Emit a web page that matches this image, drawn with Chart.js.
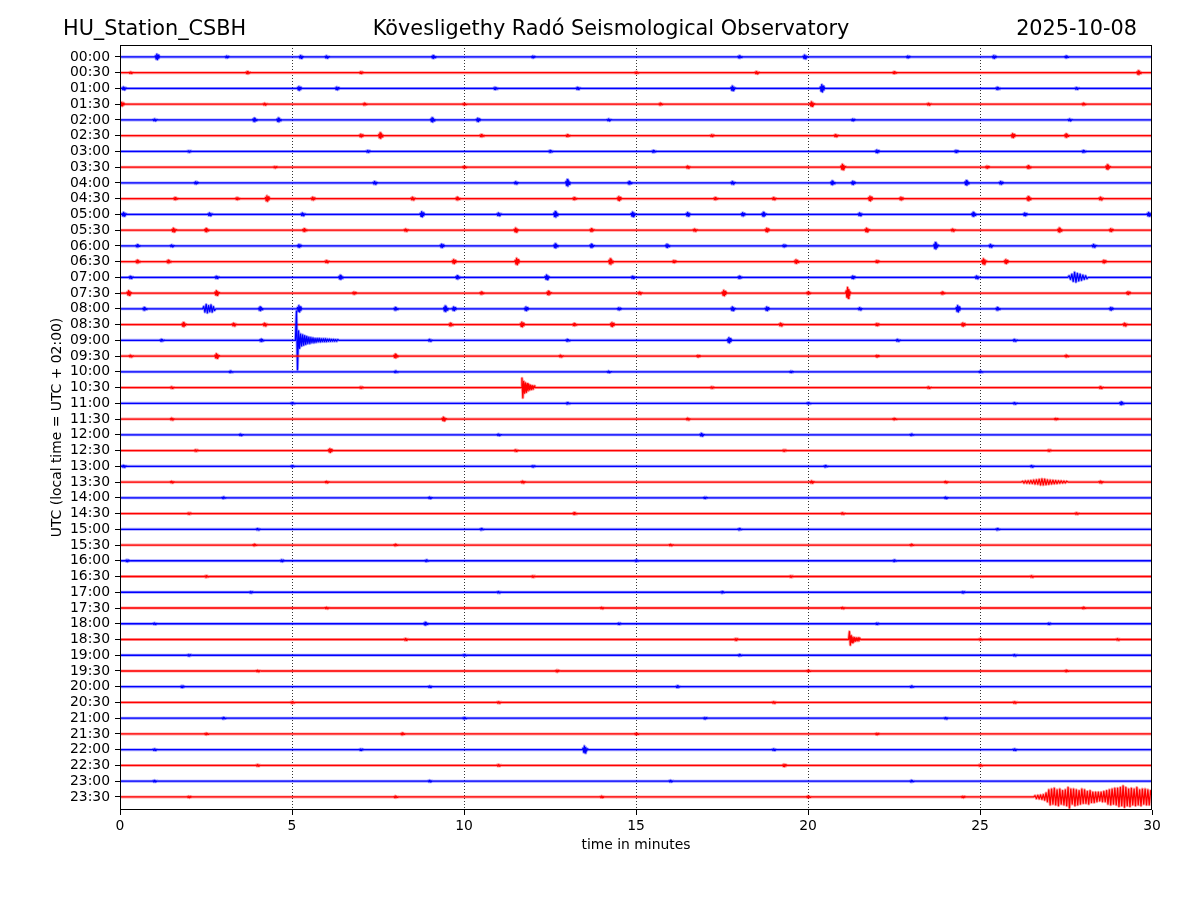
<!DOCTYPE html>
<html>
<head>
<meta charset="utf-8">
<script src="https://cdn.jsdelivr.net/npm/chart.js@4.4.1/dist/chart.umd.min.js"></script>
<style>
html,body{margin:0;padding:0;background:#fff;}
canvas{display:block;}
</style>
</head>
<body>
<canvas id="c" width="1200" height="900"></canvas>
<script>
// ---- data ----
const stationName = "HU_Station_CSBH";
const observatory = "Kövesligethy Radó Seismological Observatory";
const dateLabel = "2025-10-08";
const yAxisTitle = "UTC (local time = UTC + 02:00)";
const xAxisTitle = "time in minutes";

const timeLabels = ["00:00","00:30","01:00","01:30","02:00","02:30","03:00","03:30",
  "04:00","04:30","05:00","05:30","06:00","06:30","07:00","07:30",
  "08:00","08:30","09:00","09:30","10:00","10:30","11:00","11:30",
  "12:00","12:30","13:00","13:30","14:00","14:30","15:00","15:30",
  "16:00","16:30","17:00","17:30","18:00","18:30","19:00","19:30",
  "20:00","20:30","21:00","21:30","22:00","22:30","23:00","23:30"];
const traceColors = ["#0000ff", "#ff0000"]; // alternating
const traceHalo = ["rgba(0,0,255,0.35)", "rgba(255,0,0,0.35)"];
const xTicks = [0, 5, 10, 15, 20, 25, 30];
const dottedGrid = [5, 10, 15, 20, 25];

// small wavelets on each trace: [minute, relative size]
const bumpGain = 0.6; // relative size -> trace spacings
const bumps = [
/*00:00*/ [[1.07,0.3],[3.1,0.1],[5.25,0.15],[6.0,0.12],[9.1,0.15],[12.0,0.1],[18.0,0.12],[19.9,0.2],[22.9,0.1],[25.4,0.15],[27.5,0.1]],
/*00:30*/ [[0.3,0.08],[3.7,0.12],[7.0,0.1],[15.0,0.08],[18.5,0.12],[22.5,0.1],[29.6,0.2]],
/*01:00*/ [[0.1,0.15],[5.2,0.2],[6.3,0.15],[10.9,0.12],[13.3,0.12],[17.8,0.25],[20.4,0.4],[25.5,0.12],[27.8,0.1]],
/*01:30*/ [[0.05,0.2],[4.2,0.1],[7.1,0.1],[10.0,0.08],[15.7,0.1],[20.1,0.25],[23.5,0.1],[28.0,0.1]],
/*02:00*/ [[1.0,0.1],[3.9,0.18],[4.6,0.2],[9.07,0.22],[10.4,0.18],[14.2,0.1],[21.3,0.1],[27.6,0.1]],
/*02:30*/ [[7.0,0.15],[7.56,0.3],[10.5,0.12],[13.0,0.1],[17.2,0.1],[20.8,0.12],[25.95,0.22],[27.5,0.18]],
/*03:00*/ [[2.0,0.08],[7.2,0.1],[12.5,0.1],[15.5,0.1],[22.0,0.15],[24.3,0.12],[28.0,0.1]],
/*03:30*/ [[4.5,0.08],[10.0,0.1],[16.5,0.12],[21.0,0.3],[25.2,0.12],[26.4,0.15],[28.7,0.25]],
/*04:00*/ [[2.2,0.12],[7.4,0.15],[11.5,0.12],[13.0,0.35],[14.8,0.15],[17.8,0.15],[20.7,0.2],[21.3,0.18],[24.6,0.25],[25.6,0.15]],
/*04:30*/ [[1.6,0.12],[3.4,0.12],[4.27,0.3],[5.6,0.15],[8.5,0.15],[9.8,0.15],[13.2,0.12],[14.5,0.22],[17.3,0.12],[19.0,0.12],[21.8,0.25],[22.7,0.15],[26.4,0.22],[28.5,0.15]],
/*05:00*/ [[0.1,0.2],[2.6,0.15],[5.3,0.15],[8.77,0.28],[11.0,0.15],[12.65,0.3],[14.9,0.25],[16.5,0.2],[18.1,0.18],[18.7,0.22],[21.5,0.15],[24.8,0.22],[26.3,0.15],[29.9,0.2]],
/*05:30*/ [[1.55,0.2],[2.5,0.18],[5.35,0.15],[8.3,0.12],[11.5,0.22],[13.7,0.15],[16.7,0.12],[18.8,0.2],[21.7,0.2],[24.2,0.12],[27.3,0.22],[28.8,0.15]],
/*06:00*/ [[0.5,0.12],[1.5,0.1],[5.2,0.15],[9.35,0.18],[12.65,0.22],[13.7,0.18],[15.9,0.18],[19.3,0.12],[23.7,0.35],[25.3,0.15],[28.3,0.15]],
/*06:30*/ [[0.5,0.15],[1.4,0.15],[6.0,0.12],[9.7,0.22],[11.53,0.35],[14.25,0.3],[16.1,0.12],[19.65,0.2],[22.0,0.12],[25.1,0.3],[25.75,0.22],[28.6,0.15]],
/*07:00*/ [[0.3,0.12],[2.8,0.12],[6.4,0.22],[9.8,0.18],[12.4,0.25],[14.9,0.12],[18.0,0.12],[21.3,0.15],[24.9,0.15]],
/*07:30*/ [[0.25,0.25],[2.8,0.25],[6.8,0.12],[10.5,0.12],[12.45,0.2],[15.1,0.12],[17.55,0.3],[20.0,0.12],[21.15,0.6],[23.9,0.12],[29.3,0.15]],
/*08:00*/ [[0.7,0.15],[4.07,0.2],[5.2,0.35],[8.0,0.15],[9.45,0.3],[9.7,0.2],[11.8,0.2],[14.5,0.12],[17.8,0.2],[18.8,0.2],[21.5,0.12],[24.35,0.35],[25.5,0.15],[28.8,0.15]],
/*08:30*/ [[1.84,0.22],[3.3,0.15],[4.2,0.15],[9.6,0.15],[11.68,0.25],[13.2,0.12],[14.3,0.22],[19.2,0.15],[22.0,0.12],[24.5,0.18],[29.2,0.15]],
/*09:00*/ [[1.2,0.1],[4.1,0.12],[9.0,0.1],[13.0,0.1],[17.7,0.28],[22.6,0.1],[26.0,0.1]],
/*09:30*/ [[0.3,0.1],[2.8,0.25],[8.0,0.2],[12.8,0.1],[16.8,0.1],[22.0,0.1],[27.5,0.1]],
/*10:00*/ [[3.2,0.08],[8.0,0.08],[14.2,0.08],[19.5,0.08],[25.0,0.08]],
/*10:30*/ [[1.5,0.08],[7.0,0.08],[17.2,0.08],[23.5,0.08],[28.5,0.1]],
/*11:00*/ [[5.0,0.08],[13.0,0.08],[20.0,0.08],[26.0,0.08],[29.1,0.15]],
/*11:30*/ [[1.5,0.1],[9.4,0.2],[16.5,0.1],[22.5,0.08],[27.2,0.08]],
/*12:00*/ [[3.5,0.08],[11.0,0.08],[16.9,0.15],[23.0,0.08]],
/*12:30*/ [[2.2,0.08],[6.1,0.2],[11.5,0.08],[19.3,0.08],[27.0,0.08]],
/*13:00*/ [[0.1,0.1],[5.0,0.08],[12.0,0.08],[20.5,0.08],[26.5,0.08]],
/*13:30*/ [[1.5,0.08],[6.0,0.08],[11.7,0.1],[20.1,0.12],[24.0,0.08],[28.5,0.1]],
/*14:00*/ [[3.0,0.08],[9.0,0.08],[17.0,0.08],[24.0,0.08]],
/*14:30*/ [[2.0,0.08],[13.2,0.1],[21.0,0.08],[27.8,0.08]],
/*15:00*/ [[4.0,0.08],[10.5,0.08],[18.0,0.08],[25.5,0.08]],
/*15:30*/ [[3.9,0.08],[8.0,0.08],[16.0,0.08],[23.0,0.08]],
/*16:00*/ [[0.2,0.1],[4.7,0.1],[8.9,0.08],[15.0,0.08],[22.5,0.08]],
/*16:30*/ [[2.5,0.08],[12.0,0.08],[19.5,0.08],[26.5,0.08]],
/*17:00*/ [[3.8,0.08],[11.0,0.08],[17.5,0.08],[24.5,0.08]],
/*17:30*/ [[6.0,0.08],[14.0,0.08],[21.0,0.08],[28.0,0.08]],
/*18:00*/ [[1.0,0.08],[8.87,0.15],[14.5,0.08],[22.0,0.08],[27.0,0.08]],
/*18:30*/ [[8.3,0.1],[17.9,0.1],[25.0,0.08],[29.0,0.08]],
/*19:00*/ [[2.0,0.08],[10.0,0.08],[18.0,0.08],[26.0,0.08]],
/*19:30*/ [[4.0,0.08],[12.7,0.1],[20.0,0.08],[27.5,0.08]],
/*20:00*/ [[1.8,0.1],[9.0,0.08],[16.2,0.1],[23.0,0.08]],
/*20:30*/ [[5.0,0.08],[11.0,0.08],[19.0,0.08],[26.0,0.08]],
/*21:00*/ [[3.0,0.08],[10.0,0.08],[17.0,0.08],[24.0,0.08]],
/*21:30*/ [[2.5,0.08],[8.2,0.1],[15.0,0.08],[22.0,0.08]],
/*22:00*/ [[1.0,0.08],[7.0,0.08],[13.5,0.38],[19.0,0.08],[26.0,0.08]],
/*22:30*/ [[4.0,0.08],[11.0,0.08],[19.3,0.12],[25.0,0.08]],
/*23:00*/ [[1.0,0.08],[9.0,0.08],[16.0,0.08],[23.0,0.08]],
/*23:30*/ [[2.0,0.08],[8.0,0.08],[14.0,0.08],[20.0,0.08],[24.5,0.08]]
];
// shape of one small wavelet: [minute offset, relative amplitude]
const bumpShape = [[-0.06,0],[-0.04,0.4],[-0.02,-0.7],[0,1],[0.02,-0.9],[0.04,0.6],[0.06,-0.4],[0.08,0.2],[0.1,0]];

// longer wave trains (earthquakes / noise bursts), sampled amplitudes in trace spacings
const burst0700 = [0,0.1,-0.12,0.2,-0.25,0.32,-0.3,0.25,-0.22,0.2,-0.18,0.14,-0.12,0.1,-0.08,0];
const burst0800 = [0,0.15,-0.2,0.28,-0.25,0.2,-0.18,0.25,-0.2,0.14,-0.1,0];
const burst0900 = [0,1.85,-1.86,0.6,-0.5,0.4,-0.35,0.35,-0.3,0.3,-0.25,0.25,-0.2,0.2,-0.2,0.18,-0.15,0.15,-0.15,0.12,-0.12,0.12,-0.1,0.12,-0.1,0.1,-0.08,0.1,-0.08,0.1,-0.08,0.08,-0.06,0.08,-0.06,0.06,-0.05,0.06,-0.05,0.05,-0.05,0.05,0];
const burst1030 = [0,0.6,-0.65,0.4,-0.35,0.3,-0.3,0.25,-0.2,0.2,-0.15,0.15,-0.12,0.12,-0.1,0.1,0];
const burst1330 = [0,0.05,-0.06,0.07,-0.07,0.08,-0.08,0.1,-0.09,0.12,-0.12,0.14,-0.13,0.17,-0.18,0.2,-0.18,0.18,-0.16,0.14,-0.14,0.12,-0.12,0.11,-0.1,0.09,-0.09,0.08,-0.07,0.07,-0.06,0.06,-0.05,0.05,0];
const burst1830 = [0,0.5,-0.35,0.25,-0.2,0.15,-0.15,0.12,-0.1,0.1,-0.08,0.1,-0.08,0.08,0];
const burst2330 = [0,0.08,-0.1,0.1,-0.12,0.12,-0.15,0.15,-0.2,0.25,-0.3,
  0.45,-0.5,0.5,-0.45,0.55,-0.5,0.45,-0.55,0.5,-0.45,0.4,-0.5,
  0.45,-0.55,0.6,-0.7,0.5,-0.45,0.5,-0.55,0.45,-0.5,0.4,-0.45,0.5,
  -0.4,0.45,-0.4,0.35,-0.45,0.4,-0.35,0.3,-0.35,0.3,-0.3,0.3,
  -0.25,0.3,-0.3,0.35,-0.3,0.4,-0.45,0.45,-0.5,0.5,-0.45,0.55,-0.5,
  0.55,-0.6,0.6,-0.55,0.7,-0.65,0.6,-0.55,0.5,-0.6,0.55,-0.5,
  0.5,-0.55,0.6,-0.5,0.45,-0.55,0.5,-0.45,0.5,-0.5,0.45,-0.5,0.4];
// [trace index, start minute, sample step in minutes, amplitudes]
const bursts = [
  [14, 27.55, 0.04, burst0700],
  [16, 2.40, 0.035, burst0800],
  [18, 5.10, 0.03, burst0900],
  [21, 11.66, 0.025, burst1030],
  [27, 26.20, 0.04, burst1330],
  [37, 21.18, 0.025, burst1830],
  [47, 26.56, 0.04, burst2330]
];

// ---- build datasets ----
function tracePoints(i) {
  const pts = [];
  bumps[i].forEach(([t, a]) => {
    bumpShape.forEach(([dt, r]) => pts.push({x: t + dt, y: r * a * bumpGain}));
  });
  bursts.filter(b => b[0] === i).forEach(([, start, step, amps]) => {
    amps.forEach((a, k) => pts.push({x: start + k * step, y: a}));
  });
  pts.sort((p, q) => p.x - q.x);
  return [{x: 0, y: 0}, ...pts, {x: 30, y: 0}]
    .filter(p => p.x >= 0 && p.x <= 30)
    .map(p => ({x: p.x, y: -i + p.y}));
}
const N = timeLabels.length;
const datasets = [];
timeLabels.forEach((lab, i) => {
  const data = tracePoints(i);
  datasets.push({
    label: lab + ' halo', data,
    borderColor: traceHalo[i % 2], borderWidth: 3,
    borderJoinStyle: 'round', borderCapStyle: 'butt',
    pointRadius: 0, tension: 0, fill: false, order: 2 * (N - i) + 1
  });
  datasets.push({
    label: lab, data,
    borderColor: traceColors[i % 2], borderWidth: 1.3,
    borderJoinStyle: 'round', borderCapStyle: 'butt',
    pointRadius: 0, tension: 0, fill: false, order: 2 * (N - i)
  });
});

const FONT = "'DejaVu Sans', sans-serif";

const framePlugin = {
  id: 'frame',
  beforeDatasetsDraw(chart) {
    const {ctx, chartArea: a, scales: {x}} = chart;
    ctx.save();
    ctx.strokeStyle = '#000';
    ctx.lineWidth = 0.8;
    ctx.setLineDash([1, 2]);
    dottedGrid.forEach(v => {
      const px = Math.round(x.getPixelForValue(v)) + 0.5;
      ctx.beginPath();
      ctx.moveTo(px, a.top);
      ctx.lineTo(px, a.bottom);
      ctx.stroke();
    });
    ctx.restore();
  },
  afterDatasetsDraw(chart) {
    const {ctx, chartArea: a} = chart;
    ctx.save();
    ctx.strokeStyle = '#000';
    ctx.lineWidth = 1;
    ctx.strokeRect(Math.round(a.left) + 0.5, Math.round(a.top) + 0.5,
      Math.round(a.right - a.left) - 1, Math.round(a.bottom - a.top) - 1);
    ctx.restore();
  },
  afterDraw(chart) {
    const {ctx} = chart;
    ctx.save();
    ctx.fillStyle = '#000';
    ctx.font = "20.8px " + FONT;
    ctx.textBaseline = 'alphabetic';
    ctx.textAlign = 'left';
    ctx.fillText(stationName, 63, 35);
    ctx.textAlign = 'center';
    ctx.fillText(observatory, 611, 35);
    ctx.textAlign = 'right';
    ctx.fillText(dateLabel, 1137, 35);
    ctx.restore();
  }
};

new Chart(document.getElementById('c'), {
  type: 'line',
  data: {datasets},
  options: {
    responsive: false,
    devicePixelRatio: 1,
    animation: false,
    parsing: false,
    normalized: true,
    layout: {padding: {top: 45, right: 48, left: 0, bottom: 0}},
    plugins: {legend: {display: false}, tooltip: {enabled: false}, title: {display: false}},
    scales: {
      x: {
        type: 'linear',
        min: 0, max: 30,
        afterBuildTicks: s => { s.ticks = xTicks.map(v => ({value: v})); },
        afterFit: s => { s.height = 90; },
        grid: {display: true, drawOnChartArea: false, drawTicks: true, tickLength: 5, tickColor: '#000', tickWidth: 1},
        border: {display: false},
        ticks: {color: '#000', font: {family: FONT, size: 13.9}, padding: 3, maxRotation: 0, autoSkip: false},
        title: {display: true, text: xAxisTitle, color: '#000', font: {family: FONT, size: 13.9}, padding: {top: 0, bottom: 46.7}}
      },
      y: {
        type: 'linear',
        min: -47.83, max: 0.76,
        afterBuildTicks: s => { s.ticks = timeLabels.map((_, i) => ({value: -i})); },
        afterFit: s => { s.width = 120; },
        grid: {display: true, drawOnChartArea: false, drawTicks: true, tickLength: 5, tickColor: '#000', tickWidth: 1},
        border: {display: false},
        ticks: {
          color: '#000', font: {family: FONT, size: 13.9}, padding: 5, autoSkip: false,
          callback: v => timeLabels[Math.round(-v)]
        },
        title: {display: true, text: yAxisTitle, color: '#000', font: {family: FONT, size: 13.9}, padding: {top: 48.7, bottom: 0}}
      }
    }
  },
  plugins: [framePlugin]
});
</script>
</body>
</html>
